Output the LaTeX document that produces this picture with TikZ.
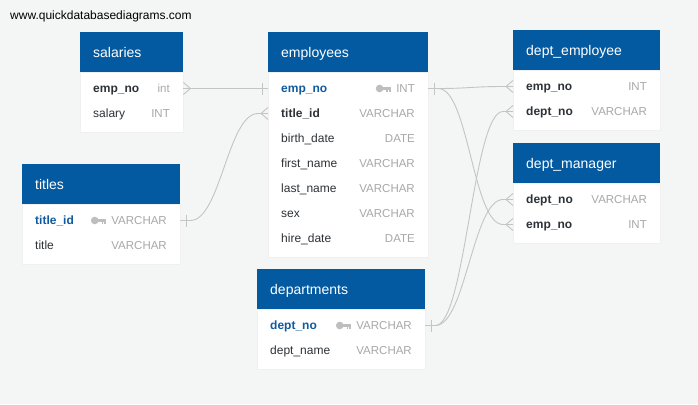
\documentclass[tikz,border=0pt]{standalone}
\usepackage{fontspec}
\setmainfont{Liberation Sans}

\definecolor{qdbblue}{RGB}{4,90,160}
\definecolor{qdbkey}{RGB}{16,90,160}
\definecolor{qdbtext}{RGB}{45,50,55}
\definecolor{qdbtype}{RGB}{168,168,168}
\definecolor{qdbicon}{RGB}{190,190,190}
\definecolor{qdbline}{RGB}{196,196,196}
\definecolor{qdbback}{RGB}{244,245,245}

\begin{document}
\begin{tikzpicture}[x=1pt, y=-1pt,
  head/.style={anchor=north west, fill=qdbblue, text=white, minimum height=40, inner xsep=13, inner ysep=0,
    text height=10, text depth=0, align=left, font=\fontsize{14}{16}\selectfont},
  body/.style={anchor=north west, fill=white, draw=black!6, inner sep=0},
  field/.style={anchor=west, inner sep=0, text height=8.6, text depth=0, text=qdbtext, font=\fontsize{12}{14}\selectfont},
  fkey/.style={field, font=\fontsize{12}{14}\selectfont\bfseries},
  pkey/.style={fkey, text=qdbkey},
  type/.style={anchor=east, inner sep=0, text height=8.3, text depth=0, text=qdbtype, font=\fontsize{11.5}{14}\selectfont},
  link/.style={draw=qdbline, line width=0.9},
  many/.pic={\draw [link] (7,0) -- (0,-6) (7,0) -- (0,6);},
  one/.pic={\draw [link] (6,-6) -- (6,6);},
  key/.pic={\fill [qdbicon] (-11.5,0) circle (3.8);
    \fill [qdbicon] (-9,-1.6) rectangle (0,1.6);
    \fill [qdbicon] (-4.6,1.6) rectangle (-2.8,3.6);
    \fill [qdbicon] (-1.8,1.6) rectangle (0,3.6);}
]

\fill [qdbback] (0,0) rectangle (698,404);

\node [anchor=west, inner sep=0, font=\fontsize{12}{14}\selectfont] (site) at (10,16) {www.quickdatabasediagrams.com};

% salaries
\node [head, minimum width=103, text width=77] (salaries) at (80,32) {salaries};
\node [body, minimum width=103, minimum height=60] (salaries-body) at (salaries.south west) {};
\foreach \f/\t/\s [count=\i] in {emp\_no/int/fkey, salary/INT/field} {
  \node [\s] (salaries-r\i) at (93,63.5+25*\i) {\f};
  \node [type] (salaries-t\i) at (170,63.5+25*\i) {\t};
}

% employees
\node [head, minimum width=160, text width=134] (employees) at (268,32) {employees};
\node [body, minimum width=160, minimum height=185] (employees-body) at (employees.south west) {};
\foreach \f/\t/\s [count=\i] in {emp\_no/INT/pkey, title\_id/VARCHAR/fkey, birth\_date/DATE/field,
    first\_name/VARCHAR/field, last\_name/VARCHAR/field, sex/VARCHAR/field, hire\_date/DATE/field} {
  \node [\s] (employees-r\i) at (281,63.5+25*\i) {\f};
  \node [type] (employees-t\i) at (415,63.5+25*\i) {\t};
}
\pic at ([xshift=-5pt]employees-t1.west) {key};

% titles
\node [head, minimum width=158, text width=132] (titles) at (22,164) {titles};
\node [body, minimum width=158, minimum height=60] (titles-body) at (titles.south west) {};
\foreach \f/\t/\s [count=\i] in {title\_id/VARCHAR/pkey, title/VARCHAR/field} {
  \node [\s] (titles-r\i) at (35,195.5+25*\i) {\f};
  \node [type] (titles-t\i) at (167,195.5+25*\i) {\t};
}
\pic at ([xshift=-5pt]titles-t1.west) {key};

% departments
\node [head, minimum width=168, text width=142] (departments) at (257,269) {departments};
\node [body, minimum width=168, minimum height=60] (departments-body) at (departments.south west) {};
\foreach \f/\t/\s [count=\i] in {dept\_no/VARCHAR/pkey, dept\_name/VARCHAR/field} {
  \node [\s] (departments-r\i) at (270,300.5+25*\i) {\f};
  \node [type] (departments-t\i) at (412,300.5+25*\i) {\t};
}
\pic at ([xshift=-5pt]departments-t1.west) {key};

% dept_employee
\node [head, minimum width=147, text width=121] (deptemp) at (513,30) {dept\_employee};
\node [body, minimum width=147, minimum height=60] (deptemp-body) at (deptemp.south west) {};
\foreach \f/\t [count=\i] in {emp\_no/INT, dept\_no/VARCHAR} {
  \node [fkey] (deptemp-r\i) at (526,61.5+25*\i) {\f};
  \node [type] (deptemp-t\i) at (647,61.5+25*\i) {\t};
}

% dept_manager
\node [head, minimum width=147, text width=121] (deptman) at (513,143) {dept\_manager};
\node [body, minimum width=147, minimum height=60] (deptman-body) at (deptman.south west) {};
\foreach \f/\t [count=\i] in {dept\_no/VARCHAR, emp\_no/INT} {
  \node [fkey] (deptman-r\i) at (526,174.5+25*\i) {\f};
  \node [type] (deptman-t\i) at (647,174.5+25*\i) {\t};
}

% ports on the table edges
\coordinate (sal-emp) at (salaries-body.east |- salaries-r1);
\coordinate (emp-in1) at (employees-body.west |- employees-r1);
\coordinate (emp-in2) at (employees-body.west |- employees-r2);
\coordinate (emp-out) at (employees-body.east |- employees-r1);
\coordinate (tit-out) at (titles-body.east |- titles-r1);
\coordinate (dep-out) at (departments-body.east |- departments-r1);
\coordinate (de-emp) at (deptemp-body.west |- deptemp-r1);
\coordinate (de-dep) at (deptemp-body.west |- deptemp-r2);
\coordinate (dm-dep) at (deptman-body.west |- deptman-r1);
\coordinate (dm-emp) at (deptman-body.west |- deptman-r2);

% relations
\draw [link] (sal-emp) -- (emp-in1);
\foreach \a/\b in {tit-out/emp-in2, emp-out/de-emp, emp-out/dm-emp, dep-out/de-dep, dep-out/dm-dep}
  \draw [link] (\a) -- ++(10,0) .. controls +(30,0) and +(-30,0) .. ([xshift=-10pt]\b) -- (\b);

\foreach \c in {tit-out, emp-out, dep-out}
  \pic at (\c) {one};
\pic [xscale=-1] at (emp-in1) {one};
\pic at (sal-emp) {many};
\foreach \c in {emp-in2, de-emp, de-dep, dm-dep, dm-emp}
  \pic [xscale=-1] at (\c) {many};

\end{tikzpicture}
\end{document}
